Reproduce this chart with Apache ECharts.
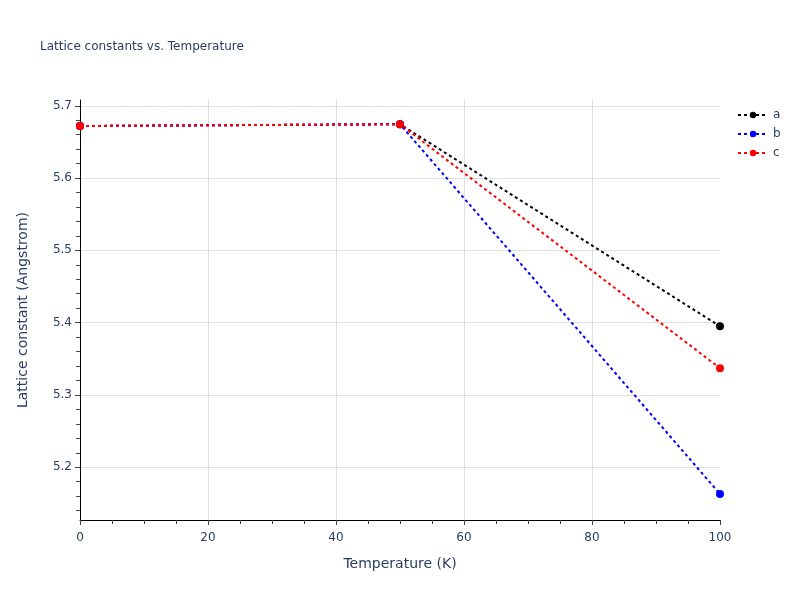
<!DOCTYPE html>
<html>
<head>
<meta charset="utf-8">
<script src="https://cdn.jsdelivr.net/npm/echarts@6/dist/echarts.min.js"></script>
<style>html,body{margin:0;padding:0;background:#fff;}#chart{width:800px;height:600px;}</style>
</head>
<body>
<div id="chart"></div>
<script>
const temperature = [0, 50, 100];
const seriesA = [5.672, 5.6745, 5.395];
const seriesB = [5.672, 5.6745, 5.163];
const seriesC = [5.672, 5.6745, 5.337];
const seriesNames = ['a', 'b', 'c'];
const seriesColors = ['#000000', '#0000ff', '#ff0000'];
const yMajorTicks = [5.2, 5.3, 5.4, 5.5, 5.6, 5.7];
const yMinorTicks = [5.14, 5.16, 5.18, 5.22, 5.24, 5.26, 5.28, 5.32, 5.34, 5.36, 5.38, 5.42, 5.44, 5.46, 5.48, 5.52, 5.54, 5.56, 5.58, 5.62, 5.64, 5.66, 5.68];

const font = '"DejaVu Sans", Verdana, sans-serif';
const txt = '#2a3f5f';
const values = [seriesA, seriesB, seriesC];

const chart = echarts.init(document.getElementById('chart'));
chart.setOption({
  animation: false,
  backgroundColor: '#fff',
  title: {
    text: 'Lattice constants vs. Temperature',
    left: 35, top: 36,
    textStyle: { fontFamily: font, fontSize: 12, fontWeight: 'normal', color: txt }
  },
  legend: {
    orient: 'vertical',
    left: 732, top: 104,
    itemGap: 7,
    itemWidth: 30, itemHeight: 8,
    textStyle: { fontFamily: font, fontSize: 12, color: txt },
    data: seriesNames
  },
  grid: { left: 80, right: 80, top: 100, bottom: 80, containLabel: false },
  xAxis: {
    type: 'value', min: 0, max: 100, interval: 20,
    name: 'Temperature (K)', nameLocation: 'middle', nameGap: 37,
    nameTextStyle: { fontFamily: font, fontSize: 14, color: txt },
    axisLine: { show: true, lineStyle: { color: '#000', width: 1 } },
    axisTick: { show: true, length: 5, lineStyle: { color: '#444' } },
    minorTick: { show: true, splitNumber: 4, length: 4, lineStyle: { color: '#444' } },
    axisLabel: { fontFamily: font, fontSize: 12, color: txt, margin: 12 },
    splitLine: { show: true, showMinLine: false, showMaxLine: false, lineStyle: { color: '#e0e0e0', width: 1 } }
  },
  yAxis: [{
    type: 'value', min: 5.127, max: 5.708,
    name: 'Lattice constant (Angstrom)', nameLocation: 'middle', nameGap: 50,
    nameTextStyle: { fontFamily: font, fontSize: 14, color: txt },
    axisLine: { show: true, lineStyle: { color: '#000', width: 1 } },
    axisTick: { show: true, length: 5, customValues: yMajorTicks, lineStyle: { color: '#444' } },
    axisLabel: { fontFamily: font, fontSize: 12, color: txt, margin: 8, customValues: yMajorTicks },
    splitLine: { show: true, lineStyle: { color: '#e0e0e0', width: 1 } }
  }, {
    type: 'value', min: 5.127, max: 5.708, position: 'left',
    axisLine: { show: false },
    axisTick: { show: true, length: 4, customValues: yMinorTicks, lineStyle: { color: '#444' } },
    axisLabel: { show: false },
    splitLine: { show: false }
  }],
  series: seriesNames.map((n, i) => ({
    name: n,
    type: 'line',
    yAxisIndex: 0,
    data: temperature.map((t, j) => [t, values[i][j]]),
    symbol: 'circle', symbolSize: 8,
    itemStyle: { color: seriesColors[i] },
    lineStyle: { color: seriesColors[i], width: 2, type: [3, 3] }
  }))
});
</script>
</body>
</html>
